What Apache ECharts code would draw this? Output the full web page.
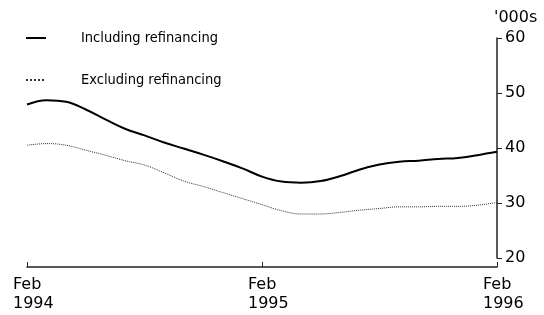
<html>
<head>
    <meta charset="utf-8">
    <title>Housing finance commitments</title>
    <script src="https://cdn.jsdelivr.net/npm/echarts@6/dist/echarts.min.js"></script>
</head>
<body style="margin:0;background:#fff">
    <div id="main" style="width:544px;height:315px"></div>
    <script type="text/javascript">
        // monthly, Feb 1994 - Feb 1996
        var months = ['Feb 1994','Mar 1994','Apr 1994','May 1994','Jun 1994','Jul 1994','Aug 1994','Sep 1994','Oct 1994','Nov 1994','Dec 1994','Jan 1995',
                      'Feb 1995','Mar 1995','Apr 1995','May 1995','Jun 1995','Jul 1995','Aug 1995','Sep 1995','Oct 1995','Nov 1995','Dec 1995','Jan 1996','Feb 1996'];
        var including = [47.9, 48.7, 48.4, 47.0, 45.2, 43.5, 42.3, 41.0, 39.9, 38.8, 37.6, 36.3,
                         34.8, 33.9, 33.7, 34.0, 34.9, 36.1, 37.0, 37.5, 37.7, 38.0, 38.2, 38.7, 39.3];
        var excluding = [40.5, 40.8, 40.5, 39.6, 38.7, 37.7, 36.9, 35.5, 34.0, 33.0, 31.9, 30.8,
                         29.7, 28.6, 28.0, 28.0, 28.3, 28.7, 29.0, 29.3, 29.3, 29.4, 29.4, 29.6, 30.1];
        var tickLabels = {0: 'Feb\n1994', 12: 'Feb\n1995', 24: 'Feb\n1996'};
        var yTicks = [20, 30, 40, 50, 60];

        var font = 'DejaVu Sans';
        var myChart = echarts.init(document.getElementById('main'));
        var option = {
            animation: false,
            backgroundColor: '#fff',
            legend: {
                orient: 'vertical',
                left: 20,
                top: 25,
                itemWidth: 20,
                itemHeight: 14,
                itemGap: 26,
                itemStyle: {opacity: 0},
                textStyle: {
                    fontFamily: 'DejaVu Sans Condensed',
                    fontSize: 14.5,
                    lineHeight: 16,
                    color: '#000',
                    padding: [0, 0, 0, 30]
                },
                data: ['Including refinancing', 'Excluding refinancing']
            },
            grid: {left: 27, right: 47, top: 38, bottom: 57},
            xAxis: {
                type: 'category',
                boundaryGap: false,
                data: months,
                offset: 9,
                axisLine: {lineStyle: {color: '#222', width: 1.5}},
                axisTick: {
                    inside: true,
                    length: 5,
                    interval: function (i) { return tickLabels[i] !== undefined; },
                    lineStyle: {color: '#222'}
                },
                axisLabel: {
                    interval: function (i) { return tickLabels[i] !== undefined; },
                    formatter: function (v, i) { return tickLabels[i] || ''; },
                    fontFamily: font,
                    fontSize: 16,
                    lineHeight: 19,
                    color: '#000',
                    align: 'left',
                    padding: [0, 0, 0, -14],
                    margin: 8
                },
                splitLine: {show: false}
            },
            yAxis: {
                type: 'value',
                position: 'right',
                min: yTicks[0],
                max: yTicks[yTicks.length - 1],
                interval: 10,
                name: "'000s",
                nameLocation: 'end',
                nameGap: 12,
                nameTextStyle: {fontFamily: font, fontSize: 16, color: '#000', align: 'left', padding: [0, 0, 0, -3]},
                axisLine: {show: true, lineStyle: {color: '#222', width: 1.5}},
                axisTick: {show: true, length: 5, lineStyle: {color: '#222'}},
                axisLabel: {fontFamily: font, fontSize: 16, color: '#000', margin: 8},
                splitLine: {show: false}
            },
            series: [
                {
                    name: 'Including refinancing',
                    type: 'line',
                    data: including,
                    smooth: 0.4,
                    symbol: 'none',
                    itemStyle: {color: '#000'},
                    lineStyle: {color: '#000', width: 2}
                },
                {
                    name: 'Excluding refinancing',
                    type: 'line',
                    data: excluding,
                    smooth: 0.4,
                    symbol: 'none',
                    itemStyle: {color: '#333'},
                    lineStyle: {color: '#333', width: 1, type: 'dotted'}
                }
            ]
        };
        myChart.setOption(option);
    </script>
</body>
</html>
